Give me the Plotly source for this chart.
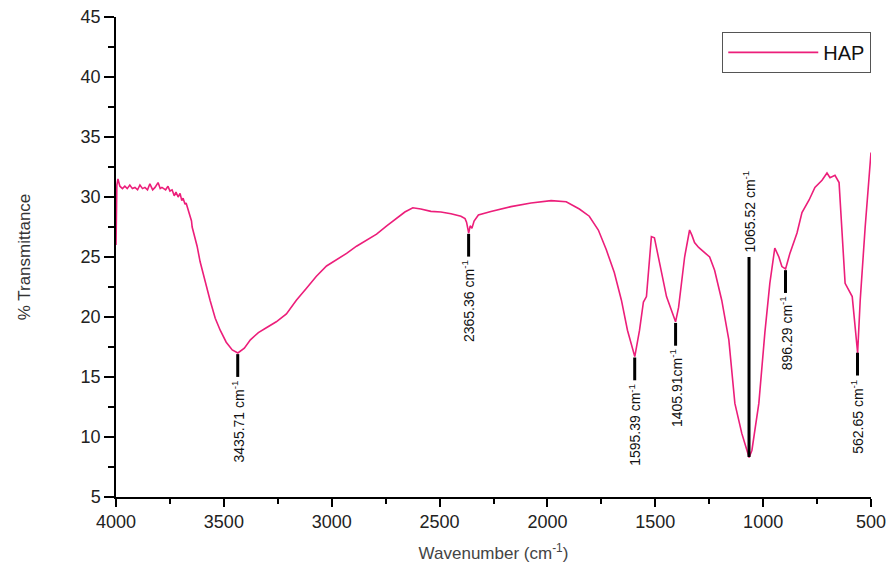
import plotly.graph_objects as go
import numpy as np

# ---- data ----
wavenumber = [4000, 3996, 3991, 3982, 3970, 3959, 3948, 3936, 3924, 3912, 3900, 3889, 3877, 3866,
              3854, 3843, 3830, 3819, 3805, 3795, 3787, 3770, 3759, 3750, 3740, 3730, 3722, 3712,
              3703, 3695, 3689, 3680, 3675, 3666, 3657, 3650, 3647, 3640, 3636, 3630, 3624, 3610,
              3587, 3564, 3540, 3517, 3489, 3461, 3435, 3405, 3377, 3340, 3303, 3257, 3210, 3164,
              3117, 3071, 3024, 2978, 2931, 2885, 2838, 2792, 2745, 2699, 2661, 2624, 2587, 2540,
              2494, 2447, 2401, 2382, 2375, 2365, 2358, 2350, 2340, 2320, 2262, 2169, 2076, 1983,
              1913, 1852, 1806, 1764, 1727, 1690, 1657, 1629, 1595, 1573, 1555, 1541, 1518, 1504,
              1480, 1448, 1406, 1392, 1364, 1341, 1330, 1318, 1299, 1285, 1262, 1248, 1225, 1192,
              1159, 1131, 1099, 1065, 1052, 1020, 992, 969, 946, 927, 913, 896, 876, 843, 820,
              787, 760, 727, 704, 690, 667, 648, 620, 601, 587, 562, 550, 527, 504, 500]
transmittance = [26.0, 31.0, 31.5, 30.9, 30.7, 30.9, 30.7, 31.0, 30.7, 30.8, 30.6, 31.0, 30.7, 30.8,
                 30.6, 31.1, 30.6, 30.8, 31.2, 30.7, 30.8, 30.6, 30.9, 30.5, 30.6, 30.1, 30.4, 30.0,
                 30.3, 29.7, 29.9, 29.4, 29.5, 29.0, 28.4, 28.0, 27.5, 27.0, 26.6, 26.4, 25.9, 24.6,
                 22.9, 21.4, 19.9, 18.9, 17.9, 17.25, 17.0, 17.4, 18.1, 18.7, 19.1, 19.6, 20.25, 21.4,
                 22.4, 23.4, 24.25, 24.75, 25.3, 25.9, 26.4, 26.9, 27.6, 28.25, 28.75, 29.1, 29.0, 28.8,
                 28.75, 28.6, 28.4, 28.2, 27.9, 27.0, 27.6, 27.4, 28.0, 28.5, 28.8, 29.2, 29.5, 29.7,
                 29.6, 29.0, 28.4, 27.25, 25.6, 23.7, 21.4, 18.9, 16.7, 18.9, 21.25, 21.7, 26.7, 26.6,
                 24.5, 21.7, 19.6, 20.8, 25.0, 27.25, 26.8, 26.2, 25.8, 25.6, 25.2, 25.0, 23.9, 21.4,
                 18.1, 12.8, 10.3, 8.3, 8.9, 12.8, 18.7, 22.8, 25.75, 25.0, 24.2, 24.0, 25.3, 27.0, 28.7,
                 29.75, 30.8, 31.4, 32.0, 31.6, 31.8, 31.2, 22.8, 22.1, 21.7, 17.0, 21.4, 27.5, 32.8, 33.7]

peak_positions = [3435.71, 2365.36, 1595.39, 1405.91, 1065.52, 896.29, 562.65]
peak_labels = ["3435.71 cm<sup>-1</sup>", "2365.36 cm<sup>-1</sup>", "1595.39 cm<sup>-1</sup>",
               "1405.91cm<sup>-1</sup>", "1065.52 cm<sup>-1</sup>", "896.29 cm<sup>-1</sup>",
               "562.65 cm<sup>-1</sup>"]
label_above = [False, False, False, False, True, False, False]
above_line_top = 25.0

x_ticks = [4000, 3500, 3000, 2500, 2000, 1500, 1000, 500]
y_ticks = [5, 10, 15, 20, 25, 30, 35, 40, 45]

FONT = "Arial, Liberation Sans, sans-serif"
LINE_COLOR = "#EC1E7A"

fig = go.Figure()
fig.add_trace(go.Scatter(x=wavenumber, y=transmittance, mode="lines", name="HAP",
                         line=dict(color=LINE_COLOR, width=1.6)))

wn_asc = np.array(wavenumber[::-1], dtype=float)
t_asc = np.array(transmittance[::-1], dtype=float)

shapes = []
annotations = []
for pos, lab, above in zip(peak_positions, peak_labels, label_above):
    yv = float(np.interp(pos, wn_asc, t_asc))
    if above:
        y0, y1 = yv, above_line_top
        shapes.append(dict(type="line", xref="x", yref="y", x0=pos, x1=pos, y0=y0, y1=y1,
                           line=dict(color="black", width=3)))
        annotations.append(dict(x=pos, y=y1 + 0.2, xref="x", yref="y", text=lab, showarrow=False,
                                textangle=-90, xanchor="center", yanchor="bottom",
                                font=dict(family=FONT, size=14, color="#111")))
    else:
        y0, y1 = yv - 0.1, yv - 2.0
        shapes.append(dict(type="line", xref="x", yref="y", x0=pos, x1=pos, y0=y0, y1=y1,
                           line=dict(color="black", width=3)))
        annotations.append(dict(x=pos, y=y1 - 0.15, xref="x", yref="y", text=lab, showarrow=False,
                                textangle=-90, xanchor="center", yanchor="top",
                                font=dict(family=FONT, size=14, color="#111")))

fig.update_layout(
    width=887, height=569,
    margin=dict(l=116, r=16, t=17, b=72),
    paper_bgcolor="white", plot_bgcolor="white",
    font=dict(family=FONT, color="#222"),
    shapes=shapes, annotations=annotations,
    showlegend=True,
    legend=dict(x=0.803, y=0.969, xanchor="left", yanchor="top",
                bordercolor="#555", borderwidth=1, bgcolor="white",
                font=dict(family=FONT, size=20, color="#111"),
                itemwidth=90),
    xaxis=dict(range=[4000, 500], tickvals=x_ticks, showgrid=False, zeroline=False,
               automargin=False,
               showline=True, linecolor="black", linewidth=1.5,
               ticks="outside", ticklen=8, tickwidth=1.5, tickcolor="black",
               minor=dict(dtick=250, ticks="outside", ticklen=5, tickwidth=1.5, tickcolor="black"),
               tickfont=dict(family=FONT, size=18, color="#222"),
               title=dict(text="Wavenumber (cm<sup>-1</sup>)", standoff=16,
                          font=dict(family=FONT, size=17, color="#444"))),
    yaxis=dict(range=[5, 45], tickvals=y_ticks, showgrid=False, zeroline=False,
               automargin=False,
               showline=True, linecolor="black", linewidth=1.5,
               ticks="outside", ticklen=10, tickwidth=1.5, tickcolor="black",
               minor=dict(dtick=2.5, ticks="outside", ticklen=6, tickwidth=1.5, tickcolor="black"),
               tickfont=dict(family=FONT, size=18, color="#222"),
               title=dict(text="% Transmittance", standoff=46,
                          font=dict(family=FONT, size=17, color="#333"))),
)

fig.write_html("out.html", config={"displayModeBar": False},
               post_script="document.body.style.margin='0';document.body.style.overflow='hidden';")
